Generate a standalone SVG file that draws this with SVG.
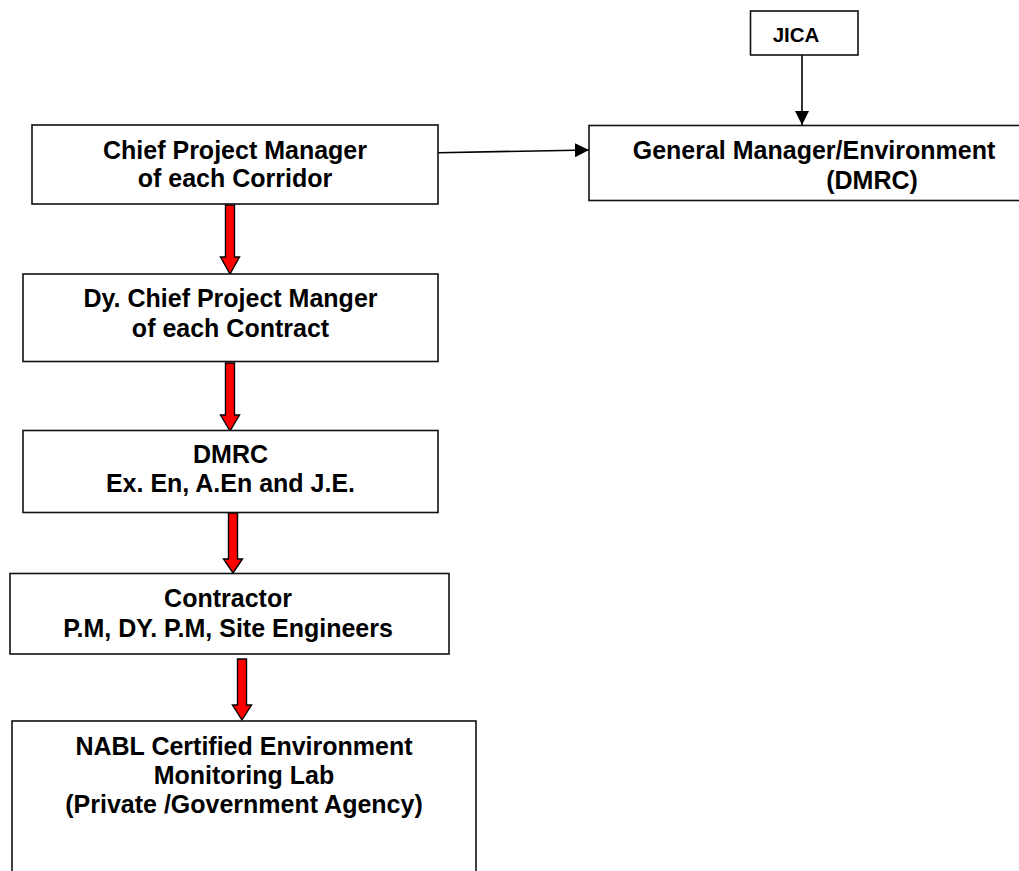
<svg xmlns="http://www.w3.org/2000/svg" width="1019" height="871" viewBox="0 0 1019 871">
<style>
.box{fill:#fff;stroke:#111;stroke-width:1.6}
.t{font-family:"Liberation Sans",Arial,sans-serif;font-weight:bold;font-size:25px;fill:#000;text-anchor:middle}
.red{fill:#f00;stroke:#000;stroke-width:1.4;stroke-linejoin:miter}
.ln{stroke:#000;stroke-width:1.6;fill:none}
</style>
<defs>
<marker id="ah" viewBox="0 0 14 14" refX="14" refY="7" markerWidth="14" markerHeight="14" markerUnits="userSpaceOnUse" orient="auto">
<path d="M0,0 L14,7 L0,14 Z" fill="#000"/>
</marker>
</defs>
<rect width="1019" height="871" fill="#fff"/>
<g id="connectors">
<line class="ln" x1="438" y1="152.7" x2="589" y2="150" marker-end="url(#ah)"/>
<line class="ln" x1="802" y1="55" x2="802" y2="125" marker-end="url(#ah)"/>
<polygon class="red" points="225.5,205 234.5,205 234.5,257 239.5,257 230,274 220.5,257 225.5,257"/>
<polygon class="red" points="225.5,363 234.5,363 234.5,415 239.5,415 230,431 220.5,415 225.5,415"/>
<polygon class="red" points="228.5,513 237.5,513 237.5,559 242.5,559 233,573 223.5,559 228.5,559"/>
<polygon class="red" points="237.5,659 246.5,659 246.5,705 251.5,705 242,720 232.5,705 237.5,705"/>
</g>
<g id="jica">
<rect class="box" x="750.5" y="11" width="107.5" height="44"/>
<text class="t" x="796" y="42" style="font-size:20.5px">JICA</text>
</g>
<g id="gm">
<rect class="box" x="589" y="125.5" width="440" height="75"/>
<text class="t" x="814" y="159">General Manager/Environment</text>
<text class="t" x="872" y="189">(DMRC)</text>
</g>
<g id="cpm">
<rect class="box" x="32" y="125" width="406" height="79"/>
<text class="t" x="235" y="159">Chief Project Manager</text>
<text class="t" x="235" y="187">of each Corridor</text>
</g>
<g id="dcpm">
<rect class="box" x="23" y="274" width="415" height="87.5"/>
<text class="t" x="230.5" y="307">Dy. Chief Project Manger</text>
<text class="t" x="230.5" y="337">of each Contract</text>
</g>
<g id="dmrc">
<rect class="box" x="23" y="430.5" width="415" height="82"/>
<text class="t" x="230.5" y="463">DMRC</text>
<text class="t" x="230.5" y="492">Ex. En, A.En and J.E.</text>
</g>
<g id="contractor">
<rect class="box" x="10" y="573.5" width="439" height="80.5"/>
<text class="t" x="228" y="607">Contractor</text>
<text class="t" x="228" y="637">P.M, DY. P.M, Site Engineers</text>
</g>
<g id="nabl">
<rect class="box" x="12" y="721" width="464" height="170"/>
<text class="t" x="244" y="755">NABL Certified Environment</text>
<text class="t" x="244" y="784">Monitoring Lab</text>
<text class="t" x="244" y="813">(Private /Government Agency)</text>
</g>
</svg>
